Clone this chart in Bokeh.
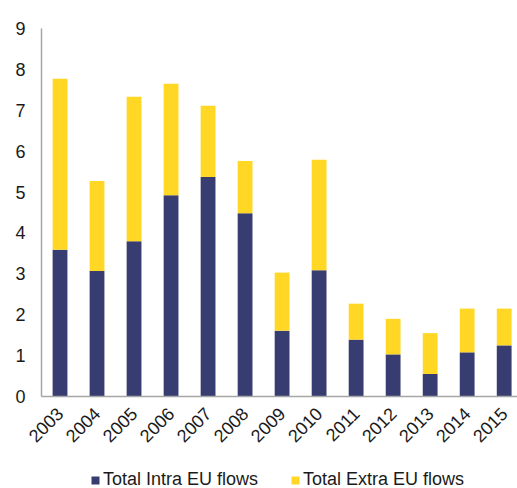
from bokeh.plotting import figure
from bokeh.models import Range1d, FixedTicker
from bokeh.embed import file_html
from bokeh.resources import INLINE
from math import pi

years = ["2003", "2004", "2005", "2006", "2007", "2008", "2009",
         "2010", "2011", "2012", "2013", "2014", "2015"]
intra = [3.59, 3.07, 3.80, 4.92, 5.37, 4.48, 1.61, 3.09, 1.39, 1.03, 0.55, 1.08, 1.25]
extra = [4.18, 2.20, 3.53, 2.73, 1.74, 1.28, 1.42, 2.70, 0.88, 0.87, 1.00, 1.07, 0.90]
series = ["intra", "extra"]
labels = ["Total Intra EU flows", "Total Extra EU flows"]
colors = ["#373C71", "#FFD724"]
yticks = [0, 1, 2, 3, 4, 5, 6, 7, 8, 9]

xpos = list(range(len(years)))
data = {"x": xpos, "intra": intra, "extra": extra}

# the frame fills the whole canvas; both axes are pinned inside it
p = figure(x_range=Range1d(-1.608, len(years) - 0.64), y_range=Range1d(-2.25, 9.685),
           width=517, height=488, output_backend="svg", toolbar_location=None,
           min_border_left=0, min_border_right=0, min_border_top=0, min_border_bottom=0)

r = p.vbar_stack(series, x="x", width=0.4, color=colors, source=data,
                 legend_label=labels, line_color=None)

FONT = "Liberation Sans"
SIZE = "18px"

p.outline_line_color = None
p.xgrid.grid_line_color = None
p.ygrid.grid_line_color = None

p.yaxis.fixed_location = -0.5
p.yaxis.ticker = FixedTicker(ticks=yticks)
p.yaxis.bounds = (0, 9)
p.yaxis.axis_line_color = "#A6A6A6"
p.yaxis.axis_line_width = 1.5
p.yaxis.major_tick_line_color = None
p.yaxis.minor_tick_line_color = None
p.yaxis.major_tick_out = 0
p.yaxis.major_tick_in = 0
p.yaxis.major_label_standoff = 16
p.yaxis.major_label_text_font = FONT
p.yaxis.major_label_text_font_size = SIZE
p.yaxis.major_label_text_color = "#1a1a1a"

p.xaxis.fixed_location = 0
p.xaxis.ticker = FixedTicker(ticks=xpos)
p.xaxis.bounds = (-0.5, len(years) - 0.64)
p.xaxis.major_label_overrides = {i: y for i, y in zip(xpos, years)}
p.xaxis.axis_line_color = "#A6A6A6"
p.xaxis.axis_line_width = 1.5
p.xaxis.major_tick_line_color = None
p.xaxis.minor_tick_line_color = None
p.xaxis.major_label_orientation = pi / 4
p.xaxis.major_label_standoff = 8
p.xaxis.major_label_text_font = FONT
p.xaxis.major_label_text_font_size = SIZE
p.xaxis.major_label_text_color = "#1a1a1a"

lg = p.legend[0]
lg.orientation = "horizontal"
lg.location = (90, -2)
lg.border_line_color = None
lg.background_fill_alpha = 0
lg.padding = 0
lg.margin = 0
lg.spacing = 32
lg.glyph_width = 10
lg.glyph_height = 10
lg.label_standoff = 3
lg.label_height = 16
lg.label_text_font = FONT
lg.label_text_font_size = "18px"
lg.label_text_color = "#1a1a1a"

open("out.html", "w").write(file_html(p, INLINE))
